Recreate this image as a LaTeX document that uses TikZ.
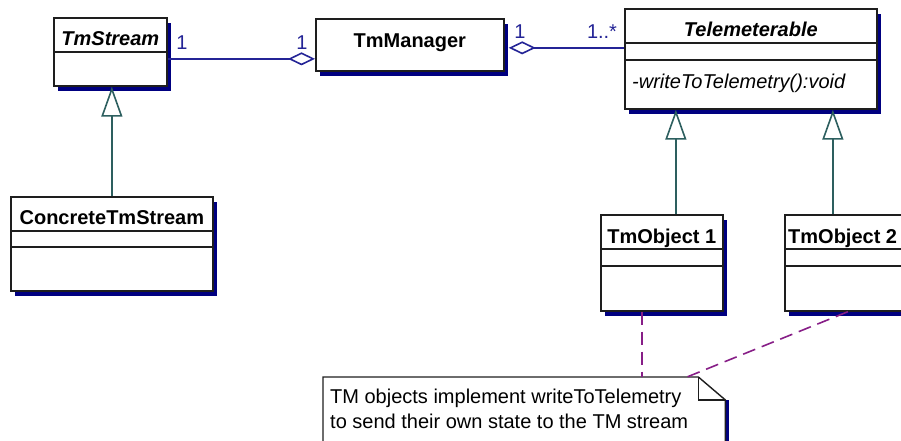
\documentclass[tikz,border=0pt]{standalone}
\usepackage{fontspec}
\setmainfont{Liberation Sans}
\usepackage{xcolor}
\usepackage{tikz}
\usetikzlibrary{arrows.meta,positioning,shadows}
\definecolor{umlnavy}{RGB}{0,0,128}
\definecolor{umlassoc}{RGB}{36,36,150}
\definecolor{umlgen}{RGB}{45,95,95}
\definecolor{umlnote}{RGB}{135,30,135}
\definecolor{umlline}{RGB}{30,30,30}

\begin{document}
\begin{tikzpicture}[x=1pt, y=-1pt, font=\fontsize{20}{25}\selectfont,
 classbox/.style={draw=umlline, line width=1.7pt, fill=white, anchor=north west, inner sep=0pt,
   drop shadow={shadow xshift=4pt, shadow yshift=-5pt, fill=umlnavy, opacity=1}},
 classname/.style={anchor=base, inner sep=0pt, font=\fontsize{20}{25}\selectfont\bfseries},
 divider/.style={draw=umlline, line width=1.6pt},
 assoc/.style={draw=umlassoc, line width=1.6pt},
 aggregate/.style={{Diamond[length=27pt, width=13pt, fill=white]}-},
 mult/.style={text=umlassoc, inner sep=0pt},
 generalize/.style={draw=umlgen, line width=1.6pt, -{Triangle[length=30pt, width=21pt, fill=white]}},
 notelink/.style={draw=umlnote, line width=1.6pt, dash pattern=on 13pt off 7pt}]
\useasboundingbox (0,0) rectangle (901,440);
\clip (0,0) rectangle (901,440);
% classes
\node[classbox, minimum width=113pt, minimum height=68pt] (tmstream) at (53,17) {};
\node[classname] (tmstreamname) at ([yshift=-28pt]tmstream.north) {\textit{TmStream}};
\draw[divider] ([yshift=-35pt]tmstream.north west) -- ([yshift=-35pt]tmstream.north east);

\node[classbox, minimum width=188pt, minimum height=52pt] (tmmanager) at (315,18) {};
\node[classname] (tmmanagername) at ([yshift=-29pt]tmmanager.north) {TmManager};

\node[classbox, minimum width=252pt, minimum height=100pt] (telemeterable) at (624,8) {};
\node[classname] (telemeterablename) at ([yshift=-28pt]telemeterable.north) {\textit{Telemeterable}};
\draw[divider] ([yshift=-35pt]telemeterable.north west) -- ([yshift=-35pt]telemeterable.north east);
\draw[divider] ([yshift=-52pt]telemeterable.north west) -- ([yshift=-52pt]telemeterable.north east);
\node[anchor=base west, inner sep=0pt] (writeop) at ([xshift=8pt, yshift=-80pt]telemeterable.north west) {\textit{-writeToTelemetry():void}};

\node[classbox, minimum width=202pt, minimum height=94pt] (concrete) at (10,196) {};
\node[classname] (concretename) at ([yshift=-28pt]concrete.north) {ConcreteTmStream};
\draw[divider] ([yshift=-35pt]concrete.north west) -- ([yshift=-35pt]concrete.north east);
\draw[divider] ([yshift=-51pt]concrete.north west) -- ([yshift=-51pt]concrete.north east);

\node[classbox, minimum width=122pt, minimum height=96pt] (tmobject1) at (600,214) {};
\node[classname] (tmobject1name) at ([yshift=-29pt]tmobject1.north) {TmObject 1};
\draw[divider] ([yshift=-35pt]tmobject1.north west) -- ([yshift=-35pt]tmobject1.north east);
\draw[divider] ([yshift=-52pt]tmobject1.north west) -- ([yshift=-52pt]tmobject1.north east);

\node[classbox, minimum width=124pt, minimum height=96pt] (tmobject2) at (784,214) {};
\node[classname, anchor=base west] (tmobject2name) at ([xshift=4pt, yshift=-29pt]tmobject2.north west) {TmObject 2};
\draw[divider] ([yshift=-35pt]tmobject2.north west) -- ([yshift=-35pt]tmobject2.north east);
\draw[divider] ([yshift=-52pt]tmobject2.north west) -- ([yshift=-52pt]tmobject2.north east);

% associations
\draw[assoc, aggregate] ([yshift=-14pt]tmmanager.west) coordinate (aggleft) -- (aggleft -| tmstream.east);
\draw[assoc, aggregate] ([xshift=4pt, yshift=-3pt]tmmanager.east) coordinate (aggright) -- (aggright -| telemeterable.west);
\node[mult] (multstream) at (182,43) {1};
\node[mult] (multmgrleft) at (302,43) {1};
\node[mult] (multmgrright) at (520,32) {1};
\node[mult] (multtele) at (602,32) {1..*};

% generalizations
\draw[generalize] (concrete.north) -- (concrete.north |- tmstream.south);
\draw[generalize] ([xshift=14pt]tmobject1.north) -- ([xshift=14pt]tmobject1.north |- telemeterable.south);
\draw[generalize] ([xshift=-14pt]tmobject2.north) -- ([xshift=-14pt]tmobject2.north |- telemeterable.south);

% note
\node[anchor=north west, minimum width=402pt, minimum height=69pt, inner sep=0pt] (note) at (323,377) {};
\fill[umlnavy] ([yshift=-23pt]note.north east) rectangle ([xshift=4pt, yshift=-5pt]note.south east);
\draw[draw=umlline, line width=1.4pt, fill=white] (note.south west) -- (note.north west)
  -- ([xshift=-27pt]note.north east) coordinate (foldA) -- ([yshift=-23pt]note.north east) coordinate (foldB)
  -- (note.south east) -- cycle;
\draw[draw=umlline, line width=1.4pt] (foldA) |- (foldB);
\node[anchor=north west, inner sep=0pt, align=left] (notetext) at (330,389) {TM objects implement writeToTelemetry\\to send their own state to the TM stream};
\draw[notelink] ([xshift=-20pt]tmobject1.south) -- ([xshift=-20pt]tmobject1.south |- note.north);
\draw[notelink] ([xshift=1pt]tmobject2.south) -- ([xshift=364pt]note.north west);
\end{tikzpicture}
\end{document}
